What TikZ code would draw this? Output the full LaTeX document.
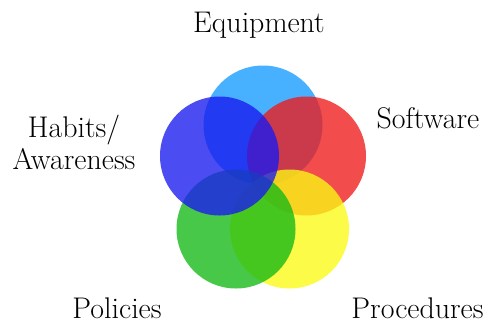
\documentclass[tikz,border=0pt]{standalone}
\usepackage{xcolor}
\usepackage{tikz}
\usetikzlibrary{shapes,positioning,calc}

\definecolor{skyset}{RGB}{20,155,255}
\definecolor{blueset}{RGB}{25,25,240}
\definecolor{redset}{RGB}{240,25,25}
\definecolor{yellowset}{RGB}{250,250,20}
\definecolor{greenset}{RGB}{20,185,20}

\begin{document}
\begin{tikzpicture}[x=1bp, y=-1bp,
    area/.style={circle, minimum size=119bp, inner sep=0pt, fill opacity=0.78},
    label/.style={anchor=base, font=\fontsize{30}{32}\selectfont, align=center}]

    \useasboundingbox (0,0) rectangle (483,323);

    % the five areas
    \node [area, fill=skyset] (equipment) at (263,125) {};
    \node [area, fill=redset] (software) at (306.5,156) {};
    \node [area, fill=yellowset] (procedures) at (289.5,229) {};
    \node [area, fill=greenset] (policies) at (236,229) {};
    \node [area, fill=blueset] (habits) at (219.5,156) {};

    % their names
    \node [label] (equipmentlabel) at (259,32) {Equipment};
    \node [label] (softwarelabel) at (428,128) {Software};
    \node [label] (habitslabel) at (74,137) {Habits/};
    \node [label] (awarenesslabel) at (74,169) {Awareness};
    \node [label] (policieslabel) at (117,318) {Policies};
    \node [label] (procedureslabel) at (417.5,318) {Procedures};
\end{tikzpicture}
\end{document}
